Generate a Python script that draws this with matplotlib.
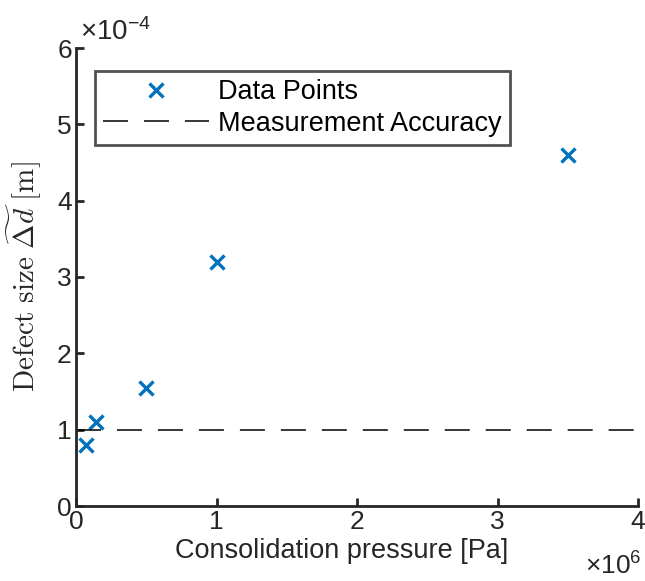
import numpy as np
import matplotlib
matplotlib.use('Agg')
import matplotlib.pyplot as plt
from matplotlib.ticker import FuncFormatter

plt.rcParams['font.family'] = ['Liberation Sans', 'DejaVu Sans']
plt.rcParams['mathtext.fontset'] = 'custom'
plt.rcParams['mathtext.rm'] = 'Liberation Sans'
plt.rcParams['mathtext.it'] = 'Liberation Sans:italic'
plt.rcParams['lines.scale_dashes'] = False

# data
pressure = [0.07e6, 0.14e6, 0.5e6, 1.0e6, 3.5e6]      # Pa
defect = [0.80e-4, 1.10e-4, 1.55e-4, 3.20e-4, 4.60e-4]  # m
accuracy = 1e-4
xlim = [0, 4e6]
ylim = [0, 6e-4]
xticks = [0, 1e6, 2e6, 3e6, 4e6]
yticks = [0, 1e-4, 2e-4, 3e-4, 4e-4, 5e-4, 6e-4]

blue = '#0072BD'
grey = '#262626'
fs = 19

fig = plt.figure(figsize=(6.45, 5.81), dpi=100)
ax = fig.add_axes([76/645, 1-506/581, (638-76)/645, (506-48)/581])

ax.plot(pressure, defect, 'x', color=blue, markersize=10, markeredgewidth=2.4,
        label='Data Points')
ax.plot(xlim, [accuracy, accuracy], color='k', linewidth=1.1, dashes=(18, 11.5),
        label='Measurement Accuracy')

ax.set_xlim(xlim)
ax.set_ylim(ylim)
ax.set_xticks(xticks)
ax.set_yticks(yticks)
ax.xaxis.set_major_formatter(FuncFormatter(lambda v, p: '%g' % (v / 1e6)))
ax.yaxis.set_major_formatter(FuncFormatter(lambda v, p: '%g' % round(v / 1e-4, 6)))

for s in ['top', 'right']:
    ax.spines[s].set_visible(False)
for s in ['left', 'bottom']:
    ax.spines[s].set_linewidth(2.0)
    ax.spines[s].set_color(grey)
ax.tick_params(direction='in', length=6, width=2.0, color=grey, labelcolor=grey,
               labelsize=fs, pad=3)

ax.set_xlabel('Consolidation pressure [Pa]', fontsize=fs + 0.5, color=grey)
ax.xaxis.set_label_coords((342-76)/562, -(538-506)/458)
ax.set_ylabel(r'$\mathrm{Defect\ size}\ \widetilde{\Delta d}\ [\mathrm{m}]$',
              fontsize=21, color=grey, math_fontfamily='cm')
ax.yaxis.set_label_coords(-(76-44)/562, 0.5)

fig.text(80/645, 1-40/581, r'$\times10^{-4}$', fontsize=fs + 1, color=grey,
         ha='left', va='baseline')
fig.text(642/645, 1-575/581, r'$\times10^{6}$', fontsize=fs, color=grey,
         ha='right', va='baseline')

leg = ax.legend(loc='upper left', bbox_to_anchor=(95/645, 1-71/581),
                bbox_transform=fig.transFigure, fontsize=fs + 0.5, frameon=True,
                fancybox=False, edgecolor=grey, handlelength=3.9,
                borderpad=0.3, labelspacing=0.2, handletextpad=0.35,
                borderaxespad=0)
leg.get_frame().set_linewidth(2.0)
for t in leg.get_texts():
    t.set_color('k')

fig.savefig('out.png', dpi=100)
